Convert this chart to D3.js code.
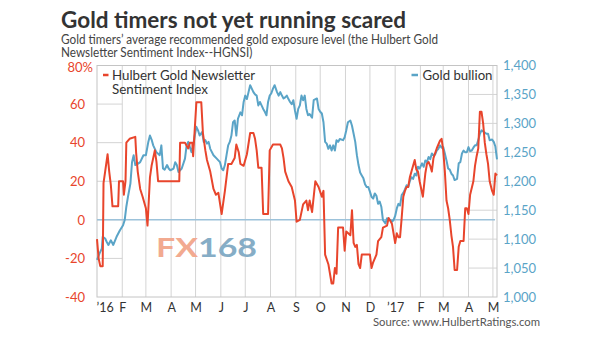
<!DOCTYPE html>
<html><head><meta charset="utf-8">
<script src="https://cdn.jsdelivr.net/npm/d3@7"></script>
<style>body{margin:0;background:#fff}svg{display:block}text{font-family:Lato,"Open Sans",sans-serif}</style>
</head><body><svg id="c" width="600" height="337"></svg>
<script>
// ---------- data ----------
const startDate = new Date(2016, 0, 1);
const endDate = new Date(2017, 4, 6);
// days since 1 Jan 2016
const hgnsiDays = [0,2,4,7,8,10,13,15,17,19,23,26,27,29,32,33,35,36,40,47,48,50,53,56,60,62,65,67,71,73,75,101,102,108,112,114,117,118,122,128,130,133,135,139,143,146,149,153,157,161,165,169,171,174,176,180,184,188,192,194,196,198,202,204,210,212,216,225,227,229,231,235,239,243,245,249,253,257,259,261,264,268,272,276,278,280,284,288,290,292,294,296,302,304,306,311,313,315,317,319,321,323,325,335,337,339,343,345,349,351,356,358,362,364,366,368,370,372,374,376,378,380,382,384,386,388,390,392,394,396,400,403,405,407,409,411,413,417,421,423,425,427,429,431,433,435,437,439,442,444,446,450,452,454,456,458,462,464,466,468,470,472,474,476,478,480,482,485,487,489,491];
const hgnsiValues = [-10,-20,-24,-24,19,25,34,25,18,7,7,7,20,20,20,13,20,40,42,43,35,25,16,12,6,-3,22,28,36,30,20,20,40,40,37,40,40,33,61,61,45,36,31,25,16,13,14,3,15,29,29,32,39,35,29,28,34,45,45,42,36,27,27,3,3,36,39,39,37,32,25,20,17,10,-1,0,8,10,5,10,4,20,17,12,15,-18,-23,-33,-33,-25,-28,-4,-4,-16,-6,-8,5,-12,-14,-13,-23,-25,-18,-18,-25,-22,-18,-11,-9,-4,-3,1,-2,-7,-12,-7,-9,-9,1,12,15,17,17,22,25,28,31,26,25,20,12,24,29,30,28,25,32,37,41,42,36,25,10,6,0,-8,-14,-26,-26,-14,-11,-11,6,6,3,13,20,28,33,37,56,56,50,40,34,29,20,15,13,24,23];
const goldDays = [0,3,6,7,10,12,14,17,20,24,28,32,34,36,38,41,43,45,47,50,53,57,60,63,65,67,69,73,77,79,81,83,86,88,90,94,96,98,100,104,108,110,112,114,116,118,120,122,124,126,129,131,133,135,137,139,143,147,151,153,155,157,159,161,163,165,167,169,171,173,176,178,180,182,184,186,188,190,192,194,196,198,200,202,204,206,208,210,212,214,216,218,221,223,225,227,229,231,233,235,237,239,241,243,245,247,249,251,253,255,257,259,261,264,266,270,272,274,276,278,280,282,284,286,288,290,292,294,296,298,302,304,306,308,311,313,315,317,319,321,323,325,327,329,331,333,335,337,339,341,343,345,347,349,351,354,356,358,360,362,364,366,368,370,372,374,376,378,380,382,384,386,388,390,392,394,396,399,401,403,405,407,409,411,413,415,417,419,421,423,425,427,429,431,433,435,437,439,442,444,446,448,450,452,454,456,458,460,462,464,466,468,470,472,474,476,478,480,482,485,487,489,491];
const goldValues = [1064,1075,1084,1104,1101,1095,1090,1098,1090,1104,1115,1124,1133,1156,1173,1196,1233,1245,1228,1230,1233,1245,1245,1268,1279,1272,1262,1250,1245,1262,1222,1220,1228,1222,1219,1222,1233,1228,1216,1222,1239,1262,1268,1259,1250,1262,1279,1294,1288,1279,1285,1268,1271,1265,1268,1256,1245,1239,1233,1222,1219,1228,1245,1262,1268,1279,1302,1305,1279,1308,1319,1314,1337,1348,1342,1354,1366,1360,1354,1350,1348,1331,1337,1331,1325,1320,1314,1337,1348,1352,1360,1366,1354,1348,1354,1348,1343,1345,1348,1342,1337,1333,1340,1322,1308,1325,1331,1348,1340,1348,1325,1314,1316,1310,1340,1343,1325,1320,1317,1302,1268,1265,1256,1262,1253,1262,1253,1271,1268,1273,1271,1276,1288,1302,1305,1296,1282,1268,1245,1228,1215,1210,1205,1195,1190,1190,1182,1173,1170,1179,1175,1161,1165,1156,1133,1127,1136,1133,1133,1130,1133,1140,1153,1161,1158,1176,1180,1186,1193,1190,1200,1207,1204,1213,1210,1225,1222,1231,1225,1236,1233,1242,1238,1248,1245,1246,1253,1256,1262,1258,1259,1248,1236,1222,1220,1213,1210,1202,1204,1231,1233,1248,1253,1250,1250,1259,1252,1253,1258,1262,1262,1271,1282,1288,1286,1284,1282,1282,1271,1272,1268,1260,1238];
const leftTicks = [-40, -20, 0, 20, 40, 60, 80];
const rightTicks = [1000, 1050, 1100, 1150, 1200, 1250, 1300, 1350, 1400];
const monthLabels = ["\u201916","F","M","A","M","J","J","A","S","O","N","D","\u201917","F","M","A","M"];

const titleText = "Gold timers not yet running scared";
const subtitleLines = ["Gold timers\u2019 average recommended gold exposure level (the Hulbert Gold", "Newsletter Sentiment Index--HGNSI)"];
const legendHgnsi = ["Hulbert Gold Newsletter", "Sentiment Index"];
const legendGold = "Gold bullion";
const sourceText = "Source: www.HulbertRatings.com";

// ---------- style ----------
const RED = "#e8452c", BLUE = "#5aa4c7", GRID = "#d4d4d4", FRAME = "#c4c4c4";
const L = 97, R = 497, T = 65.5, B = 297;

const svg = d3.select("#c");
const toDate = d => d3.timeDay.offset(startDate, d);
const hgnsi = hgnsiDays.map((d, i) => ({date: toDate(d), v: hgnsiValues[i]}));
const gold = goldDays.map((d, i) => ({date: toDate(d), v: goldValues[i]}));

const x = d3.scaleTime().domain([startDate, endDate]).range([L, R]);
const yL = d3.scaleLinear().domain([-40, 80]).range([B, T]);
const yR = d3.scaleLinear().domain([1000, 1400]).range([B, T]);
const months = d3.timeMonth.range(startDate, endDate);

// squeeze a text horizontally by a factor (keeps it real text)
function squeeze(sel, k) {
  const n = sel.node().getComputedTextLength();
  if (Math.abs(k - 1) > 0.01) sel.attr("textLength", n * k).attr("lengthAdjust", "spacingAndGlyphs");
  return sel;
}
function fitW(sel, w) { return squeeze(sel, w / sel.node().getComputedTextLength()); }

// title & subtitle
fitW(svg.append("text").attr("x", 61).attr("y", 28).attr("font-size", 22.5).attr("font-weight", 700)
  .attr("fill", "#333").text(titleText), 342);
const sub1 = svg.append("text").attr("x", 61).attr("y", 43.5).attr("font-size", 12.5)
  .attr("fill", "#444").text(subtitleLines[0]);
const k = 377 / sub1.node().getComputedTextLength();
squeeze(sub1, k);
squeeze(svg.append("text").attr("x", 61).attr("y", 57).attr("font-size", 12.5)
  .attr("fill", "#444").text(subtitleLines[1]), k);

// grid
const g = svg.append("g");
g.selectAll(".vg").data(months.slice(1)).join("line")
  .attr("x1", d => x(d)).attr("x2", d => x(d)).attr("y1", T).attr("y2", B)
  .attr("stroke", GRID).attr("stroke-width", 1);
g.selectAll(".hl").data(leftTicks.filter(v => v > -40 && v < 80)).join("line")
  .attr("x1", L).attr("x2", x(months[1])).attr("y1", d => yL(d)).attr("y2", d => yL(d))
  .attr("stroke", GRID);
g.selectAll(".hr").data(rightTicks.filter(v => v > 1000 && v < 1400)).join("line")
  .attr("x1", x(months[15])).attr("x2", R).attr("y1", d => yR(d)).attr("y2", d => yR(d))
  .attr("stroke", GRID);
svg.append("rect").attr("x", L).attr("y", T).attr("width", R - L).attr("height", B - T)
  .attr("fill", "none").attr("stroke", FRAME);
// zero line
svg.append("line").attr("x1", L).attr("x2", R - 2).attr("y1", yL(0)).attr("y2", yL(0))
  .attr("stroke", "#9cc2da").attr("stroke-width", 1.5);

// watermark
const wm = svg.append("text").attr("x", 156).attr("y", 257).attr("font-size", 26)
  .attr("font-weight", 700).attr("font-family", "DejaVu Sans")
  .attr("textLength", 101).attr("lengthAdjust", "spacingAndGlyphs");
wm.append("tspan").attr("fill", "#f2aa90").text("FX");
wm.append("tspan").attr("fill", "#86adc6").text("168");

// lines
const line = (ys) => d3.line().x(d => x(d.date)).y(d => ys(d.v));
svg.append("path").datum(gold).attr("d", line(yR)).attr("fill", "none")
  .attr("stroke", BLUE).attr("stroke-width", 2).attr("stroke-linejoin", "round");
svg.append("path").datum(hgnsi).attr("d", line(yL)).attr("fill", "none")
  .attr("stroke", RED).attr("stroke-width", 2).attr("stroke-linejoin", "round");

// axes
const axL = svg.append("g").attr("transform", `translate(${L},0)`)
  .call(d3.axisLeft(yL).tickValues(leftTicks).tickSize(0).tickPadding(12)
    .tickFormat(d => d === 80 ? "80%" : d));
const axR = svg.append("g").attr("transform", `translate(${R},0)`)
  .call(d3.axisRight(yR).tickValues(rightTicks).tickSize(0).tickPadding(6).tickFormat(d3.format(",")));
const axB = svg.append("g").attr("transform", `translate(0,${B})`)
  .call(d3.axisBottom(x).tickValues(months).tickSize(0).tickPadding(6.5)
    .tickFormat((d, i) => monthLabels[i]));
[axL, axR, axB].forEach(a => { a.select(".domain").remove();
  a.selectAll("text").attr("font-family", "Lato").attr("font-size", 13); });
axL.selectAll("text").attr("fill", RED).filter(d => d === 80).attr("dx", 8).attr("dy", "0.45em");
axR.selectAll("text").attr("fill", BLUE);
axB.selectAll("text").attr("fill", "#333").attr("font-size", 12.5)
  .filter((d, i) => i === 0).attr("text-anchor", "start").attr("dx", -1);

// legends
svg.append("line").attr("x1", 103).attr("x2", 108.5).attr("y1", 75).attr("y2", 75)
  .attr("stroke", RED).attr("stroke-width", 2.5);
const legW = [143, 96];
legendHgnsi.forEach((s, i) => fitW(svg.append("text").attr("x", 112).attr("y", 79.5 + i * 14)
  .attr("font-size", 12.5).attr("fill", "#333").text(s), legW[i]));
svg.append("line").attr("x1", 411.5).attr("x2", 418).attr("y1", 75).attr("y2", 75)
  .attr("stroke", BLUE).attr("stroke-width", 2.5);
fitW(svg.append("text").attr("x", 422.5).attr("y", 79.5).attr("font-size", 12.5).attr("fill", "#333").text(legendGold), 70);

// source
fitW(svg.append("text").attr("x", 373).attr("y", 326).attr("font-size", 11.5)
  .attr("fill", "#555").text(sourceText), 167);
</script></body></html>
